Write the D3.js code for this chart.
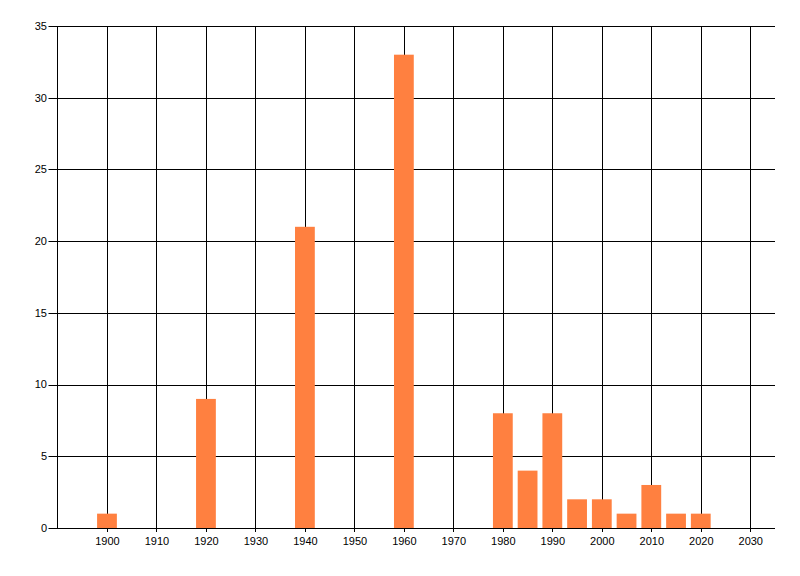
<!DOCTYPE html>
<html><head><meta charset="utf-8">
<script src="https://cdn.jsdelivr.net/npm/d3@7"></script>
<style>body{margin:0;background:#fff}text{font-family:"Liberation Sans",Arial,sans-serif;font-size:11px;fill:#000}</style>
</head><body>
<svg id="c" width="800" height="576"></svg>
<script>
const years = [1900, 1920, 1940, 1960, 1980, 1985, 1990, 1995, 2000, 2005, 2010, 2015, 2020];
const counts = [1, 9, 21, 33, 8, 4, 8, 2, 2, 1, 3, 1, 1];
const xTicks = [1900, 1910, 1920, 1930, 1940, 1950, 1960, 1970, 1980, 1990, 2000, 2010, 2020, 2030];
const yTicks = [0, 5, 10, 15, 20, 25, 30, 35];

const svg = d3.select("#c");
const L = 57.5, R = 775, T = 26, B = 528;
const x = d3.scaleLinear().domain([1890, 2035]).range([L, R]);
const y = d3.scaleLinear().domain([0, 35]).range([B, T]);
const barW = x(1904) - x(1900);

// horizontal grid
svg.append("g").selectAll("line").data(yTicks).join("line")
  .attr("x1", L - 9).attr("x2", R)
  .attr("y1", d => Math.round(y(d)) + 0.5).attr("y2", d => Math.round(y(d)) + 0.5)
  .attr("stroke", "#000").attr("stroke-width", 1);
// vertical grid
svg.append("g").selectAll("line").data(xTicks).join("line")
  .attr("y1", T).attr("y2", B + 4)
  .attr("x1", d => Math.round(x(d)) + 0.5).attr("x2", d => Math.round(x(d)) + 0.5)
  .attr("stroke", "#000").attr("stroke-width", 1);
// left axis line
svg.append("line").attr("x1", L).attr("x2", L).attr("y1", T).attr("y2", B + 1)
  .attr("stroke", "#000");

// bars
svg.append("g").selectAll("rect").data(years).join("rect")
  .attr("x", d => x(d) - barW / 2).attr("width", barW)
  .attr("y", (d, i) => y(counts[i])).attr("height", (d, i) => y(0) - y(counts[i]))
  .attr("fill", "#ff8040");

// y labels
svg.append("g").selectAll("text").data(yTicks).join("text")
  .attr("x", 47).attr("y", d => y(d)).attr("dy", "0.35em")
  .attr("text-anchor", "end").text(d => d);
// x labels
svg.append("g").selectAll("text").data(xTicks).join("text")
  .attr("x", d => x(d) + 0.5).attr("y", 545)
  .attr("text-anchor", "middle").text(d => d);
</script>
</body></html>
